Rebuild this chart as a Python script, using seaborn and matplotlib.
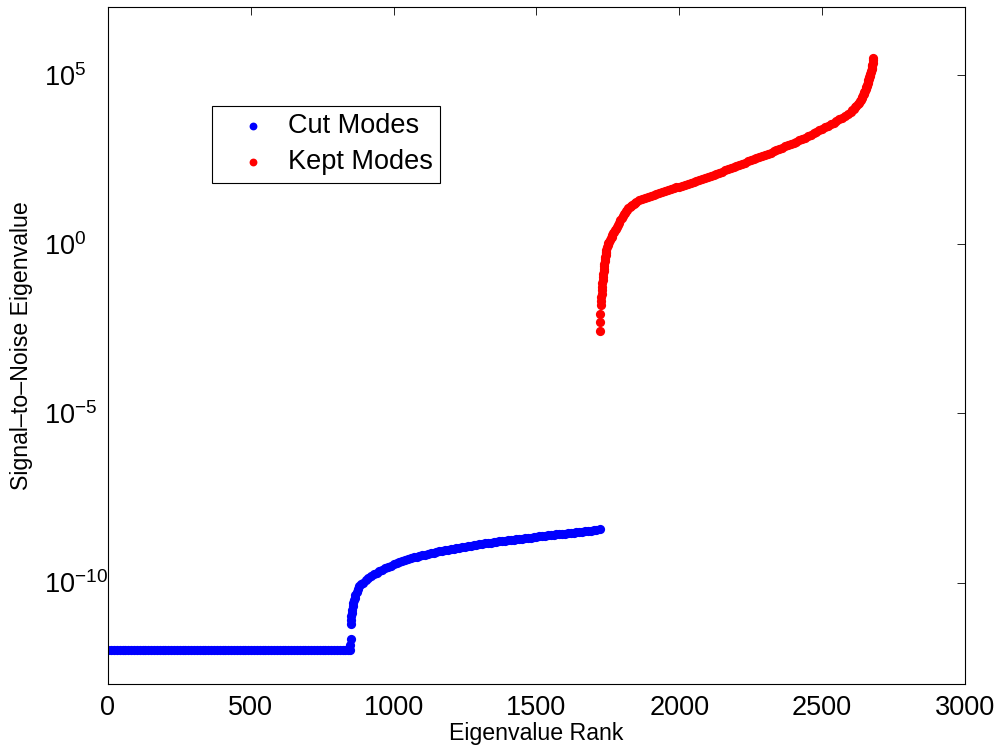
import numpy as np
import pandas as pd
import matplotlib
matplotlib.use("Agg")
import matplotlib.pyplot as plt
import seaborn as sns

# eigenvalue rank and log10(eigenvalue)
cut_rank = [
    1, 11, 21, 31, 41, 51, 61, 71, 81, 91,
    101, 111, 121, 131, 141, 151, 161, 171, 181, 191,
    201, 211, 221, 231, 241, 251, 261, 271, 281, 291,
    301, 311, 321, 331, 341, 351, 361, 371, 381, 391,
    401, 411, 421, 431, 441, 451, 461, 471, 481, 491,
    501, 511, 521, 531, 541, 551, 561, 571, 581, 591,
    601, 611, 621, 631, 641, 651, 661, 671, 681, 691,
    701, 711, 721, 731, 741, 751, 761, 771, 781, 791,
    801, 811, 821, 831, 841, 847,
    848, 849, 850, 851, 852, 853, 854, 856, 858, 860,
    863, 866, 870, 875, 880, 887, 894, 902, 910, 920,
    930, 940, 950, 960, 970, 980, 990,
    1000, 1010, 1020, 1030, 1040, 1050, 1060, 1070, 1080, 1090,
    1100, 1110, 1120, 1130, 1140, 1150, 1160, 1170, 1180, 1190,
    1200, 1210, 1220, 1230, 1240, 1250, 1260, 1270, 1280, 1290,
    1300, 1310, 1320, 1330, 1340, 1350, 1360, 1370, 1380, 1390,
    1400, 1410, 1420, 1430, 1440, 1450, 1460, 1470, 1480, 1490,
    1500, 1510, 1520, 1530, 1540, 1550, 1560, 1570, 1580, 1590,
    1600, 1610, 1620, 1630, 1640, 1650, 1660, 1670, 1680, 1690,
    1700, 1710, 1721,
]
cut_log10 = [
    -12.0, -12.0, -12.0, -12.0, -12.0, -12.0, -12.0, -12.0, -12.0, -12.0,
    -12.0, -12.0, -12.0, -12.0, -12.0, -12.0, -12.0, -12.0, -12.0, -12.0,
    -12.0, -12.0, -12.0, -12.0, -12.0, -12.0, -12.0, -12.0, -12.0, -12.0,
    -12.0, -12.0, -12.0, -12.0, -12.0, -12.0, -12.0, -12.0, -12.0, -12.0,
    -12.0, -12.0, -12.0, -12.0, -12.0, -12.0, -12.0, -12.0, -12.0, -12.0,
    -12.0, -12.0, -12.0, -12.0, -12.0, -12.0, -12.0, -12.0, -12.0, -12.0,
    -12.0, -12.0, -12.0, -12.0, -12.0, -12.0, -12.0, -12.0, -12.0, -12.0,
    -12.0, -12.0, -12.0, -12.0, -12.0, -12.0, -12.0, -12.0, -12.0, -12.0,
    -12.0, -12.0, -12.0, -12.0, -12.0, -12.0,
    -11.85, -11.68, -11.24, -11.12, -11.00, -10.90, -10.82, -10.70, -10.61, -10.53,
    -10.45, -10.37, -10.27, -10.18, -10.11, -10.05, -10.00, -9.94, -9.88, -9.82,
    -9.76, -9.71, -9.66, -9.62, -9.58, -9.54, -9.50,
    -9.46, -9.42, -9.38, -9.35, -9.33, -9.30, -9.28, -9.26, -9.24, -9.22,
    -9.20, -9.18, -9.16, -9.14, -9.12, -9.10, -9.08, -9.07, -9.05, -9.03,
    -9.02, -9.00, -8.99, -8.97, -8.96, -8.94, -8.93, -8.91, -8.90, -8.88,
    -8.87, -8.86, -8.84, -8.83, -8.82, -8.81, -8.80, -8.78, -8.77, -8.76,
    -8.75, -8.74, -8.73, -8.72, -8.71, -8.70, -8.69, -8.68, -8.67, -8.66,
    -8.65, -8.64, -8.63, -8.62, -8.61, -8.60, -8.59, -8.58, -8.57, -8.57,
    -8.56, -8.55, -8.54, -8.53, -8.52, -8.51, -8.50, -8.49, -8.48, -8.47,
    -8.46, -8.45, -8.43,
]

kept_rank = [
    1722, 1723, 1724, 1725, 1726, 1727, 1728, 1729, 1730, 1731,
    1732, 1733, 1734, 1735, 1736, 1737, 1738, 1739, 1740, 1741,
    1742, 1743, 1744, 1745, 1747, 1749, 1751, 1754, 1757, 1760,
    1763, 1766, 1769, 1772, 1775, 1778, 1782, 1786, 1790, 1794,
    1798, 1802, 1806, 1810, 1814, 1818, 1822, 1826, 1830, 1835,
    1840, 1845,
    1850, 1860, 1870, 1880, 1890, 1900, 1910, 1920, 1930, 1940,
    1950, 1960, 1970, 1980, 1990, 2000, 2010, 2020, 2030, 2040,
    2050, 2060, 2070, 2080, 2090, 2100, 2110, 2120, 2130, 2140,
    2150, 2160, 2170, 2180, 2190, 2200, 2210, 2220, 2230, 2240,
    2250, 2260, 2270, 2280, 2290, 2300, 2310, 2320, 2330, 2340,
    2350, 2360, 2370, 2380, 2390, 2400, 2410, 2420, 2430, 2440,
    2450, 2460, 2470, 2480, 2490, 2500, 2510, 2520, 2530, 2540,
    2550, 2560, 2570, 2580, 2590,
    2600, 2605, 2610, 2615, 2620, 2624, 2628, 2632, 2635, 2638,
    2641, 2644, 2646, 2648, 2650, 2652, 2654, 2656, 2657, 2659,
    2660, 2662, 2663, 2665, 2666, 2668, 2669, 2671, 2672, 2673,
    2674, 2675, 2676, 2677, 2678, 2679,
]
kept_log10 = [
    -2.56, -2.31, -2.07, -1.79, -1.68, -1.57, -1.46, -1.36, -1.26, -1.16,
    -1.06, -0.97, -0.88, -0.80, -0.72, -0.64, -0.57, -0.50, -0.44, -0.38,
    -0.32, -0.27, -0.22, -0.17, -0.09, -0.02, 0.03, 0.08, 0.13, 0.17,
    0.22, 0.27, 0.32, 0.37, 0.42, 0.46, 0.52, 0.58, 0.64, 0.71,
    0.77, 0.83, 0.88, 0.93, 0.98, 1.02, 1.06, 1.10, 1.13, 1.17,
    1.20, 1.23,
    1.26, 1.30, 1.34, 1.37, 1.40, 1.42, 1.45, 1.48, 1.51, 1.54,
    1.57, 1.60, 1.62, 1.65, 1.68, 1.70, 1.73, 1.76, 1.79, 1.82,
    1.85, 1.87, 1.90, 1.93, 1.96, 1.99, 2.02, 2.05, 2.08, 2.11,
    2.15, 2.18, 2.21, 2.25, 2.28, 2.31, 2.35, 2.38, 2.41, 2.45,
    2.48, 2.51, 2.55, 2.58, 2.61, 2.65, 2.68, 2.71, 2.75, 2.79,
    2.82, 2.85, 2.89, 2.92, 2.95, 2.99, 3.03, 3.07, 3.11, 3.15,
    3.19, 3.23, 3.28, 3.32, 3.37, 3.41, 3.46, 3.50, 3.55, 3.59,
    3.64, 3.69, 3.73, 3.78, 3.84,
    3.92, 3.96, 4.00, 4.05, 4.10, 4.14, 4.18, 4.23, 4.27, 4.31,
    4.36, 4.41, 4.45, 4.49, 4.54, 4.59, 4.64, 4.69, 4.72, 4.77,
    4.80, 4.85, 4.88, 4.93, 4.96, 5.01, 5.04, 5.10, 5.13, 5.18,
    5.22, 5.27, 5.30, 5.37, 5.44, 5.51,
]

x_ticks = [0, 500, 1000, 1500, 2000, 2500, 3000]
y_ticks = [1e-10, 1e-5, 1e0, 1e5]


def main():
    sns.set_theme(style="white")
    plt.rcParams["font.family"] = ["Liberation Sans", "DejaVu Sans"]
    plt.rcParams["axes.edgecolor"] = "black"
    plt.rcParams["axes.linewidth"] = 0.8
    plt.rcParams["text.color"] = "black"
    plt.rcParams["axes.labelcolor"] = "black"
    plt.rcParams["xtick.color"] = "black"
    plt.rcParams["ytick.color"] = "black"

    cut = pd.DataFrame({"rank": cut_rank, "value": 10.0 ** np.array(cut_log10)})
    kept = pd.DataFrame({"rank": kept_rank, "value": 10.0 ** np.array(kept_log10)})

    fig = plt.figure(figsize=(9.97, 7.45), dpi=100)
    ax = fig.add_axes([0.1083, 0.0819, 0.8596, 0.9081])

    sns.scatterplot(data=cut, x="rank", y="value", color="#0000ff", s=44,
                    linewidth=0, label="Cut Modes", ax=ax)
    sns.scatterplot(data=kept, x="rank", y="value", color="#ff0000", s=44,
                    linewidth=0, label="Kept Modes", ax=ax)

    ax.set_yscale("log")
    ax.set_xlim(0, 3000)
    ax.set_ylim(1e-13, 1e7)
    ax.set_xticks(x_ticks)
    ax.set_yticks(y_ticks)
    ax.minorticks_off()
    ax.tick_params(direction="in", length=6, width=0.6, color="black",
                   top=True, right=True, labelsize=19.5)
    ax.tick_params(axis="x", pad=8)
    ax.tick_params(axis="y", pad=46)
    for lab in ax.get_yticklabels():
        lab.set_horizontalalignment("left")

    ax.set_xlabel("Eigenvalue Rank", fontsize=16.7, labelpad=1)
    ax.set_ylabel("Signal\u2013to\u2013Noise Eigenvalue", fontsize=16.7, labelpad=8)

    handles, labels = ax.get_legend_handles_labels()
    leg = ax.legend(handles, labels, loc="upper left", bbox_to_anchor=(0.121, 0.855),
                    borderaxespad=0, fontsize=19.5, frameon=True, fancybox=False,
                    edgecolor="black", framealpha=1, handlelength=2.5,
                    handletextpad=0.03, borderpad=0.28, labelspacing=0.37,
                    markerscale=0.85)
    leg.get_frame().set_linewidth(0.8)

    fig.savefig("out.png", dpi=100)


if __name__ == "__main__":
    main()
